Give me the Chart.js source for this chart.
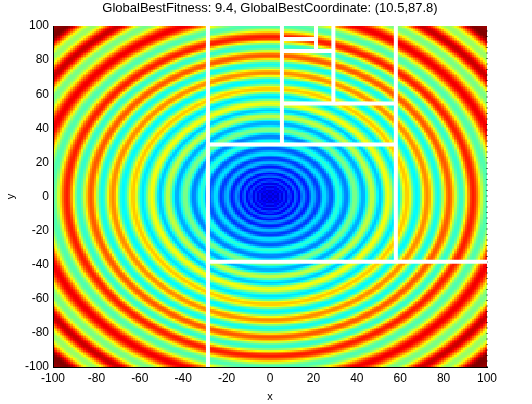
<!DOCTYPE html>
<html>
<head>
<meta charset="utf-8">
<title>GlobalBestFitness</title>
<script src="https://cdn.jsdelivr.net/npm/chart.js@4/dist/chart.umd.min.js"></script>
<style>
html, body { margin: 0; padding: 0; background: #fff; }
canvas { display: block; }
</style>
</head>
<body>
<canvas id="chart" width="532" height="404"></canvas>
<script>
var titleText = 'GlobalBestFitness: 9.4, GlobalBestCoordinate: (10.5,87.8)';
var tickValues = [-100, -80, -60, -40, -20, 0, 20, 40, 60, 80, 100];

// going out from the centre: trough, peak, trough, peak...
var ringRadius = [0, 1.5, 2.3, 3, 3.8, 4.7, 5.6, 6.6, 7.8, 9, 10.4, 11.8, 13.5, 15.2, 17.5, 19.8, 22.4, 25, 28.2, 31.5, 35.2, 39, 43, 47,
    50.7, 54.4, 58.7, 63, 67.7, 72.4, 77.5, 82.5, 88, 93.5, 100, 107.5, 115, 122, 129, 137, 142];
var ringLevel = [0.05, 0.12, 0.07, 0.13, 0.08, 0.15, 0.09, 0.17, 0.1, 0.2, 0.11, 0.23, 0.13, 0.27, 0.15, 0.31, 0.18, 0.35, 0.21, 0.42, 0.25, 0.5, 0.29, 0.57,
    0.32, 0.62, 0.35, 0.68, 0.37, 0.74, 0.39, 0.79, 0.42, 0.85, 0.45, 0.89, 0.49, 0.93, 0.52, 1, 0.97];

// white partition lines, in axis values
var lineA = [{x: -28.6, y: -100}, {x: -28.6, y: 100}];
var lineB = [{x: 58, y: -38.3}, {x: 58, y: 100}];
var lineC = [{x: -28.6, y: -38.3}, {x: 100, y: -38.3}];
var lineD = [{x: -28.6, y: 30.5}, {x: 58, y: 30.5}];
var lineE = [{x: 5.5, y: 30.5}, {x: 5.5, y: 100}];
var lineF = [{x: 5.5, y: 54.5}, {x: 58, y: 54.5}];
var lineG = [{x: 29.2, y: 54.5}, {x: 29.2, y: 100}];
var lineH = [{x: 5.5, y: 85.4}, {x: 29.2, y: 85.4}];
var lineI = [{x: 21.2, y: 85.4}, {x: 21.2, y: 100}];
var lineJ = [{x: 5.5, y: 92.4}, {x: 21.2, y: 92.4}];
var rightEdge = [{x: 100, y: -100}, {x: 100, y: 100}];

var whiteLines = [lineA, lineB, lineC, lineD, lineE, lineF, lineG, lineH, lineI, lineJ];

function jetPart(v) {
    return Math.max(0, Math.min(1, 1.5 - Math.abs(4 * v)));
}

function jetColor(level) {
    var r = jetPart(level - 0.75);
    var g = jetPart(level - 0.5);
    var b = jetPart(level - 0.25);
    return 'rgb(' + Math.round(r * 255) + ',' + Math.round(g * 255) + ',' + Math.round(b * 255) + ')';
}

function levelAt(radius) {
    var i = 1;
    while (i < ringRadius.length - 1 && ringRadius[i] < radius) {
        i++;
    }
    var t = (radius - ringRadius[i - 1]) / (ringRadius[i] - ringRadius[i - 1]);
    t = (1 - Math.cos(Math.PI * Math.min(1, t))) / 2;
    return ringLevel[i - 1] + (ringLevel[i] - ringLevel[i - 1]) * t;
}

var ringsPlugin = {
    id: 'rings',
    beforeDatasetsDraw: function(chart) {
        var ctx = chart.ctx;
        var xScale = chart.scales.x;
        var yScale = chart.scales.y;
        for (var x = -100; x < 100; x++) {
            var left = Math.round(xScale.getPixelForValue(x));
            var right = Math.round(xScale.getPixelForValue(x + 1));
            for (var y = -100; y < 100; y++) {
                var top = Math.round(yScale.getPixelForValue(y + 1));
                var bottom = Math.round(yScale.getPixelForValue(y));
                var radius = Math.sqrt((x + 0.5) * (x + 0.5) + (y + 0.5) * (y + 0.5));
                ctx.fillStyle = jetColor(levelAt(radius));
                ctx.fillRect(left, top, right - left, bottom - top);
            }
        }
    }
};

var datasets = [];
for (var index = 0; index < whiteLines.length; index++) {
    datasets.push({
        data: whiteLines[index],
        showLine: true,
        borderColor: '#fff',
        borderWidth: 4,
        pointRadius: 0,
        borderCapStyle: 'butt'
    });
}
datasets.push({
    data: rightEdge,
    showLine: true,
    borderColor: '#000',
    borderWidth: 1,
    borderDash: [1, 4.5],
    pointRadius: 0,
    clip: false
});

function axisOptions(label, titlePadding, fitSize) {
    return {
        type: 'linear',
        min: -100,
        max: 100,
        afterBuildTicks: function(scale) {
            scale.ticks = tickValues.map(function(value) {
                return {value: value};
            });
        },
        afterFit: fitSize,
        grid: {display: false, drawTicks: false},
        border: {display: true, color: '#000', width: 1, z: 1},
        ticks: {
            color: '#000',
            font: {family: '"Liberation Sans", Arial, sans-serif', size: 12},
            padding: 4,
            maxRotation: 0,
            autoSkip: false,
            callback: function(value) {
                return value;
            }
        },
        title: {
            display: true,
            text: label,
            color: '#000',
            font: {family: '"Liberation Sans", Arial, sans-serif', size: 11},
            padding: titlePadding
        }
    };
}

new Chart(document.getElementById('chart'), {
    type: 'scatter',
    data: {datasets: datasets},
    plugins: [ringsPlugin],
    options: {
        responsive: false,
        animation: false,
        layout: {padding: {left: 0, right: 45, top: 0, bottom: 0}},
        plugins: {
            legend: {display: false},
            tooltip: {enabled: false},
            title: {
                display: true,
                text: titleText,
                fullSize: false,
                color: '#000',
                font: {family: '"Liberation Sans", Arial, sans-serif', size: 13, weight: 'normal'},
                padding: {top: 1, bottom: 9.4}
            }
        },
        scales: {
            x: axisOptions('x', 0, function(scale) { scale.height = 37; }),
            y: axisOptions('y', {top: 4, bottom: 0}, function(scale) { scale.width = 53; })
        }
    }
});
</script>
</body>
</html>
